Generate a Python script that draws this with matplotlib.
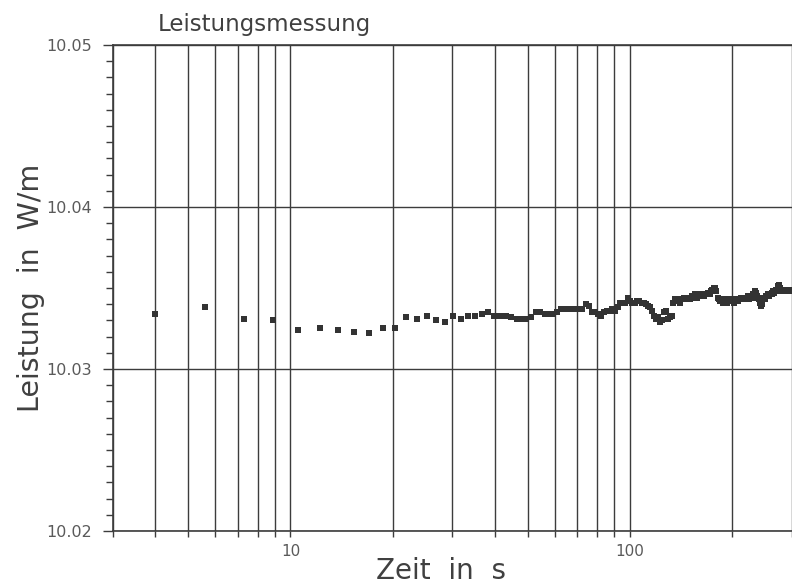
import matplotlib
matplotlib.use("Agg")
import matplotlib.pyplot as plt
from matplotlib.ticker import LogLocator, NullFormatter, FixedLocator, MultipleLocator, FuncFormatter

# ---- data ----
time_s = [4.0, 5.6, 7.3, 8.9, 10.5, 12.2, 13.8, 15.4, 17.0, 18.7,
          20.3, 21.9, 23.6, 25.2, 26.8, 28.5, 30.1, 31.7, 33.3, 35.0,
          36.6, 38.2, 39.9, 41.5, 43.1, 44.8, 46.4, 48.0, 49.6, 51.3,
          52.9, 54.5, 56.2, 57.8, 59.4, 61.1, 62.7, 64.3, 65.9, 67.6,
          69.2, 70.8, 72.5, 74.1, 75.7, 77.4, 79.0, 80.6, 82.2, 83.9,
          85.5, 87.1, 88.8, 90.4, 92.0, 93.7, 95.3, 96.9, 98.5, 100.2,
          101.8, 103.4, 105.1, 106.7, 108.3, 110.0, 111.6, 113.2, 114.8, 116.5,
          118.1, 119.7, 121.4, 123.0, 124.6, 126.3, 127.9, 129.5, 131.1, 132.8,
          134.4, 136.0, 137.7, 139.3, 140.9, 142.6, 144.2, 145.8, 147.4, 149.1,
          150.7, 152.3, 154.0, 155.6, 157.2, 158.9, 160.5, 162.1, 163.7, 165.4,
          167.0, 168.6, 170.3, 171.9, 173.5, 175.2, 176.8, 178.4, 180.0, 181.7,
          183.3, 184.9, 186.6, 188.2, 189.8, 191.5, 193.1, 194.7, 196.3, 198.0,
          199.6, 201.2, 202.9, 204.5, 206.1, 207.8, 209.4, 211.0, 212.6, 214.3,
          215.9, 217.5, 219.2, 220.8, 222.4, 224.1, 225.7, 227.3, 228.9, 230.6,
          232.2, 233.8, 235.5, 237.1, 238.7, 240.4, 242.0, 243.6, 245.2, 246.9,
          248.5, 250.1, 251.8, 253.4, 255.0, 256.7, 258.3, 259.9, 261.5, 263.2,
          264.8, 266.4, 268.1, 269.7, 271.3, 273.0, 274.6, 276.2, 277.8, 279.5,
          281.1, 282.7, 284.4, 286.0, 287.6, 289.3, 290.9, 292.5, 294.1, 295.8,
          297.4, 299.0, 300.6, 302.3]

power_wm = [10.0334, 10.0338, 10.0331, 10.0330, 10.0324, 10.0325, 10.0324, 10.0323, 10.0322, 10.0325,
            10.0325, 10.0332, 10.0331, 10.0333, 10.0330, 10.0329, 10.0333, 10.0331, 10.0333, 10.0333,
            10.0334, 10.0335, 10.0333, 10.0333, 10.0333, 10.0332, 10.0331, 10.0331, 10.0331, 10.0332,
            10.0335, 10.0335, 10.0334, 10.0334, 10.0334, 10.0335, 10.0337, 10.0337, 10.0337, 10.0337,
            10.0337, 10.0337, 10.0337, 10.0340, 10.0339, 10.0335, 10.0335, 10.0334, 10.0333, 10.0335,
            10.0336, 10.0336, 10.0337, 10.0336, 10.0338, 10.0341, 10.0341, 10.0341, 10.0344, 10.0342,
            10.0341, 10.0341, 10.0342, 10.0342, 10.0341, 10.0341, 10.0340, 10.0339, 10.0338, 10.0336,
            10.0333, 10.0331, 10.0332, 10.0329, 10.0330, 10.0335, 10.0336, 10.0331, 10.0332, 10.0333,
            10.0341, 10.0343, 10.0342, 10.0343, 10.0341, 10.0343, 10.0344, 10.0343, 10.0344, 10.0343,
            10.0343, 10.0345, 10.0344, 10.0346, 10.0344, 10.0345, 10.0346, 10.0345, 10.0346, 10.0345,
            10.0346, 10.0346, 10.0347, 10.0346, 10.0348, 10.0349, 10.0350, 10.0350, 10.0348, 10.0344,
            10.0343, 10.0342, 10.0343, 10.0341, 10.0342, 10.0343, 10.0341, 10.0343, 10.0342, 10.0343,
            10.0342, 10.0343, 10.0341, 10.0343, 10.0343, 10.0342, 10.0343, 10.0343, 10.0344, 10.0343,
            10.0343, 10.0344, 10.0343, 10.0344, 10.0345, 10.0343, 10.0345, 10.0345, 10.0344, 10.0346,
            10.0346, 10.0348, 10.0347, 10.0345, 10.0344, 10.0343, 10.0341, 10.0339, 10.0340, 10.0343,
            10.0344, 10.0343, 10.0345, 10.0345, 10.0346, 10.0345, 10.0346, 10.0346, 10.0347, 10.0346,
            10.0348, 10.0347, 10.0348, 10.0349, 10.0349, 10.0351, 10.0352, 10.0350, 10.0348, 10.0348,
            10.0349, 10.0348, 10.0348, 10.0349, 10.0348, 10.0348, 10.0349, 10.0348, 10.0349, 10.0349,
            10.0348, 10.0349, 10.0349, 10.0349]

y_ticks = [10.02, 10.03, 10.04, 10.05]
x_tick_labels = {10: "10", 100: "100"}

title = "Leistungsmessung"
xlabel = "Zeit  in  s"
ylabel = "Leistung  in  W/m"

# ---- figure ----
plt.rcParams['font.family'] = ['DejaVu Sans']
W, H = 792, 587
fig = plt.figure(figsize=(W / 100, H / 100), dpi=100)
left, right, bottom, top = 113, 792, 531, 45
ax = fig.add_axes([left / W, 1 - bottom / H, (right - left) / W, (bottom - top) / H])

line_col = '#3c3c3c'
text_col = '#404040'
tick_text_col = '#5a5a5a'

ax.set_xscale('log')
ax.set_xlim(3.0, 300.5)
ax.set_ylim(y_ticks[0], y_ticks[-1])

ax.plot(time_s, power_wm, linestyle='none', marker='s', markersize=4.6,
        color='#333333', markeredgewidth=0, zorder=3)

# x axis: gridlines at every decade subdivision
ax.xaxis.set_major_locator(FixedLocator(list(x_tick_labels.keys())))
ax.xaxis.set_major_formatter(FuncFormatter(lambda v, p: x_tick_labels.get(int(round(v)), "")))
ax.xaxis.set_minor_locator(LogLocator(base=10, subs=range(2, 10), numticks=20))
ax.xaxis.set_minor_formatter(NullFormatter())
ax.grid(True, which='both', axis='x', color=line_col, linewidth=1.0)

# y axis
ax.yaxis.set_major_locator(FixedLocator(y_ticks))
ax.yaxis.set_major_formatter(FuncFormatter(lambda v, p: f"{v:.2f}"))
ax.yaxis.set_minor_locator(MultipleLocator(0.001))
ax.grid(True, which='major', axis='y', color=line_col, linewidth=1.0)

ax.tick_params(axis='x', which='both', direction='out', length=4, width=1.0,
               color=line_col, labelsize=11, labelcolor=tick_text_col, pad=5)
ax.tick_params(axis='y', which='major', direction='out', length=7, width=1.0,
               color=line_col, labelsize=11.5, labelcolor=tick_text_col, pad=8)
ax.tick_params(axis='y', which='minor', direction='out', length=5, width=1.0,
               color=line_col)

for s in ['left', 'bottom', 'top']:
    ax.spines[s].set_color(line_col)
    ax.spines[s].set_linewidth(1.2)
ax.spines['right'].set_visible(False)

ax.set_xlabel(xlabel, fontsize=20, color=text_col)
ax.xaxis.set_label_coords((441 - left) / (right - left), (bottom - 557) / (bottom - top))
ax.set_ylabel(ylabel, fontsize=20.5, color=text_col)
ax.yaxis.set_label_coords((45 - left) / (right - left), 0.5)
fig.text(158 / W, 1 - 31 / H, title, fontsize=16.5, color=text_col, ha='left', va='baseline')

fig.savefig("out.png", dpi=100)
